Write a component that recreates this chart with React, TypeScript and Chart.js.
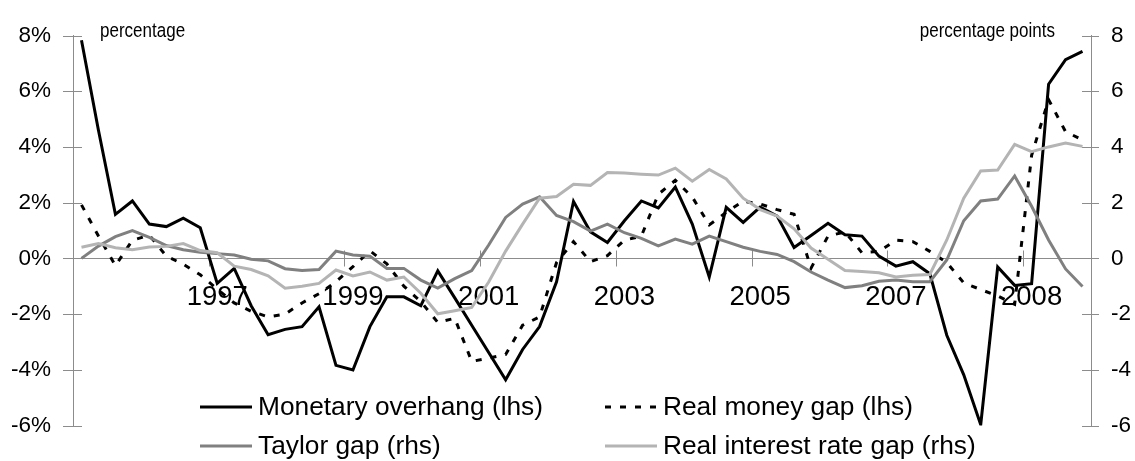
import React, { useEffect, useRef } from 'react';
import { Chart, registerables } from 'chart.js';

Chart.register(...registerables);

// 60 quarterly observations, 1995Q1 .. 2009Q4
const categories: string[] = [];
for (let yr = 1995; yr <= 2009; yr++) for (let q = 1; q <= 4; q++) categories.push(`${yr}Q${q}`);

const tickIndex = [8, 16, 24, 32, 40, 48, 56];
const tickLabels = ['1997', '1999', '2001', '2003', '2005', '2007', '2008'];
const yTicks = [-6, -4, -2, 0, 2, 4, 6, 8];

const monetaryOverhang = [
  7.83, 4.6, 1.58, 2.06, 1.23, 1.14, 1.44, 1.1, -0.9, -0.36,
  -1.7, -2.74, -2.55, -2.45, -1.74, -3.84, -4.01, -2.45, -1.38, -1.38,
  -1.7, -0.45, -1.42, -2.4, -3.38, -4.36, -3.27, -2.45, -0.84, 2.04,
  0.95, 0.57, 1.35, 2.06, 1.81, 2.56, 1.23, -0.67, 1.83, 1.29,
  1.84, 1.52, 0.39, 0.82, 1.26, 0.85, 0.8, 0.08, -0.28, -0.12,
  -0.55, -2.76, -4.18, -5.97, -0.31, -0.97, -0.91, 6.25, 7.13, 7.43,
];
const realMoneyGap = [
  1.92, 0.8, -0.26, 0.65, 0.83, 0.08, -0.21, -0.59, -1.1, -1.6,
  -1.9, -2.1, -2.0, -1.6, -1.27, -0.84, -0.3, 0.27, -0.2, -1.0,
  -1.55, -2.3, -2.15, -3.7, -3.58, -3.45, -2.4, -2.1, -0.15, 0.6,
  -0.12, 0.1, 0.65, 0.8, 2.3, 2.8, 2.2, 1.2, 1.65, 2.05,
  1.95, 1.75, 1.58, -0.35, 0.8, 0.95, 0.2, 0.25, 0.65, 0.6,
  0.25, -0.15, -0.88, -1.12, -1.35, -1.65, 3.7, 5.7, 4.55, 4.25,
];
const taylorGap = [
  0.0, 0.44, 0.78, 1.0, 0.75, 0.46, 0.31, 0.22, 0.17, 0.12,
  -0.03, -0.09, -0.37, -0.44, -0.4, 0.26, 0.12, 0.08, -0.36, -0.36,
  -0.78, -1.07, -0.73, -0.44, 0.48, 1.47, 1.95, 2.21, 1.54, 1.32,
  0.98, 1.23, 0.92, 0.72, 0.45, 0.69, 0.51, 0.8, 0.6, 0.4,
  0.25, 0.14, -0.12, -0.49, -0.78, -1.05, -0.98, -0.82, -0.78, -0.84,
  -0.84, -0.06, 1.35, 2.06, 2.13, 2.96, 1.87, 0.66, -0.38, -1.01,
];
const realInterestRateGap = [
  0.4, 0.53, 0.38, 0.31, 0.41, 0.43, 0.53, 0.28, 0.2, -0.28,
  -0.4, -0.63, -1.07, -1.0, -0.9, -0.42, -0.63, -0.49, -0.78, -0.67,
  -1.25, -1.99, -1.88, -1.76, -0.85, 0.26, 1.23, 2.16, 2.22, 2.66,
  2.62, 3.08, 3.06, 3.02, 2.99, 3.24, 2.77, 3.19, 2.85, 2.16,
  1.75, 1.52, 1.06, 0.37, -0.03, -0.44, -0.47, -0.52, -0.67, -0.61,
  -0.58, 0.66, 2.16, 3.14, 3.17, 4.09, 3.83, 4.0, 4.14, 4.02,
];

const seriesNames = [
  'Monetary overhang (lhs)',
  'Real money gap (lhs)',
  'Taylor gap (rhs)',
  'Real interest rate gap (rhs)',
];
const leftCaption = 'percentage';
const rightCaption = 'percentage points';

const FONT = "'Liberation Sans', Arial, sans-serif";
const AXIS = '#8c8c8c';
const BLACK = '#000000';
const GRAY = '#808080';
const LIGHT = '#b4b4b4';
const DASH = [6, 9];

function narrowText(ctx: CanvasRenderingContext2D, text: string, x: number, y: number, align: 'left' | 'right', sx: number) {
  ctx.save();
  ctx.translate(x, y);
  ctx.scale(sx, 1);
  ctx.textAlign = align;
  ctx.fillText(text, 0, 0);
  ctx.restore();
}

const axisTicksPlugin = {
  id: 'axisTicks',
  beforeDatasetsDraw(chart: any) {
    const { ctx, chartArea, scales } = chart;
    const xs = scales.x, yl = scales.y, yr = scales.y1;
    ctx.save();
    ctx.strokeStyle = AXIS;
    ctx.lineWidth = 1;
    ctx.beginPath();
    yTicks.forEach((v) => {
      const py = Math.round(yl.getPixelForValue(v)) + 0.5;
      ctx.moveTo(chartArea.left - 10, py);
      ctx.lineTo(chartArea.left + 9, py);
      const pr = Math.round(yr.getPixelForValue(v)) + 0.5;
      ctx.moveTo(chartArea.right - 9, pr);
      ctx.lineTo(chartArea.right + 8, pr);
    });
    const y0 = Math.round(yl.getPixelForValue(0)) + 0.5;
    const half = (xs.getPixelForValue(1) - xs.getPixelForValue(0)) / 2;
    tickIndex.forEach((i) => {
      const px = Math.round(xs.getPixelForValue(i) - half) + 0.5;
      ctx.moveTo(px, y0 - 8);
      ctx.lineTo(px, y0 + 8);
    });
    ctx.stroke();
    ctx.restore();
  },
  afterDraw(chart: any) {
    const { ctx } = chart;
    ctx.save();
    // unit captions (condensed look)
    ctx.fillStyle = BLACK;
    ctx.textBaseline = 'alphabetic';
    ctx.font = `20.5px ${FONT}`;
    narrowText(ctx, leftCaption, 100, 37, 'left', 0.83);
    narrowText(ctx, rightCaption, 1055, 37, 'right', 0.83);

    // legend
    const items = [
      { label: seriesNames[0], color: BLACK, dash: [], x: 200, y: 407 },
      { label: seriesNames[1], color: BLACK, dash: DASH, x: 605, y: 407 },
      { label: seriesNames[2], color: GRAY, dash: [], x: 200, y: 446 },
      { label: seriesNames[3], color: LIGHT, dash: [], x: 605, y: 446 },
    ];
    ctx.font = `26.3px ${FONT}`;
    ctx.textAlign = 'left';
    ctx.textBaseline = 'alphabetic';
    items.forEach((it) => {
      ctx.beginPath();
      ctx.strokeStyle = it.color;
      ctx.lineWidth = 3;
      ctx.setLineDash(it.dash);
      ctx.moveTo(it.x, it.y);
      ctx.lineTo(it.x + 52, it.y);
      ctx.stroke();
      ctx.setLineDash([]);
      ctx.fillStyle = BLACK;
      ctx.fillText(it.label, it.x + 58, it.y + 8);
    });
    ctx.restore();
  },
};

export default function App() {
  const ref = useRef<HTMLCanvasElement | null>(null);

  useEffect(() => {
    document.body.style.margin = '0';
    const canvas = ref.current;
    if (!canvas) return;
    const line = (label: string, data: number[], color: string, axis: string, dash: number[], order: number) => ({
      label,
      data,
      borderColor: color,
      backgroundColor: color,
      borderWidth: 3,
      borderDash: dash,
      pointRadius: 0,
      pointHoverRadius: 0,
      tension: 0,
      fill: false,
      yAxisID: axis,
      order,
    });
    const chart = new Chart(canvas, {
      type: 'line',
      data: {
        labels: categories,
        datasets: [
          line(seriesNames[0], monetaryOverhang, BLACK, 'y', [], 3),
          line(seriesNames[1], realMoneyGap, BLACK, 'y', DASH, 2),
          line(seriesNames[2], taylorGap, GRAY, 'y1', [], 1),
          line(seriesNames[3], realInterestRateGap, LIGHT, 'y1', [], 0),
        ],
      },
      options: {
        animation: false,
        responsive: false,
        devicePixelRatio: 1,
        layout: { padding: { top: 24, bottom: 32, left: 0, right: 0 } },
        plugins: { legend: { display: false }, tooltip: { enabled: false } },
        events: [],
        scales: {
          x: {
            type: 'category',
            position: { y: 0 } as any,
            offset: true,
            grid: { display: false, drawTicks: false },
            border: { display: true, color: AXIS, width: 1 },
            ticks: {
              autoSkip: false,
              maxRotation: 0,
              minRotation: 0,
              padding: 23,
              color: BLACK,
              font: { family: FONT, size: 27.5 },
              callback: (_v: any, i: number) => {
                const k = tickIndex.indexOf(i);
                return k >= 0 ? tickLabels[k] : '';
              },
            },
          },
          y: {
            position: 'left',
            min: -6,
            max: 8,
            grid: { display: false, drawTicks: false },
            border: { display: true, color: AXIS, width: 1 },
            ticks: {
              stepSize: 2,
              padding: 22,
              color: BLACK,
              font: { family: FONT, size: 22.5 },
              callback: (v: any) => `${v}%`,
            },
            afterFit: (s: any) => { s.width = 73; },
          },
          y1: {
            position: 'right',
            min: -6,
            max: 8,
            grid: { display: false, drawTicks: false },
            border: { display: true, color: AXIS, width: 1 },
            ticks: {
              stepSize: 2,
              padding: 20,
              color: BLACK,
              font: { family: FONT, size: 22.5 },
              callback: (v: any) => `${v}`,
            },
            afterFit: (s: any) => { s.width = 44; },
          },
        },
      },
      plugins: [axisTicksPlugin],
    });
    return () => chart.destroy();
  }, []);

  return (
    <div style={{ width: 1135, height: 461, background: '#fff' }}>
      <canvas ref={ref} width={1135} height={461} style={{ display: 'block' }} />
    </div>
  );
}
